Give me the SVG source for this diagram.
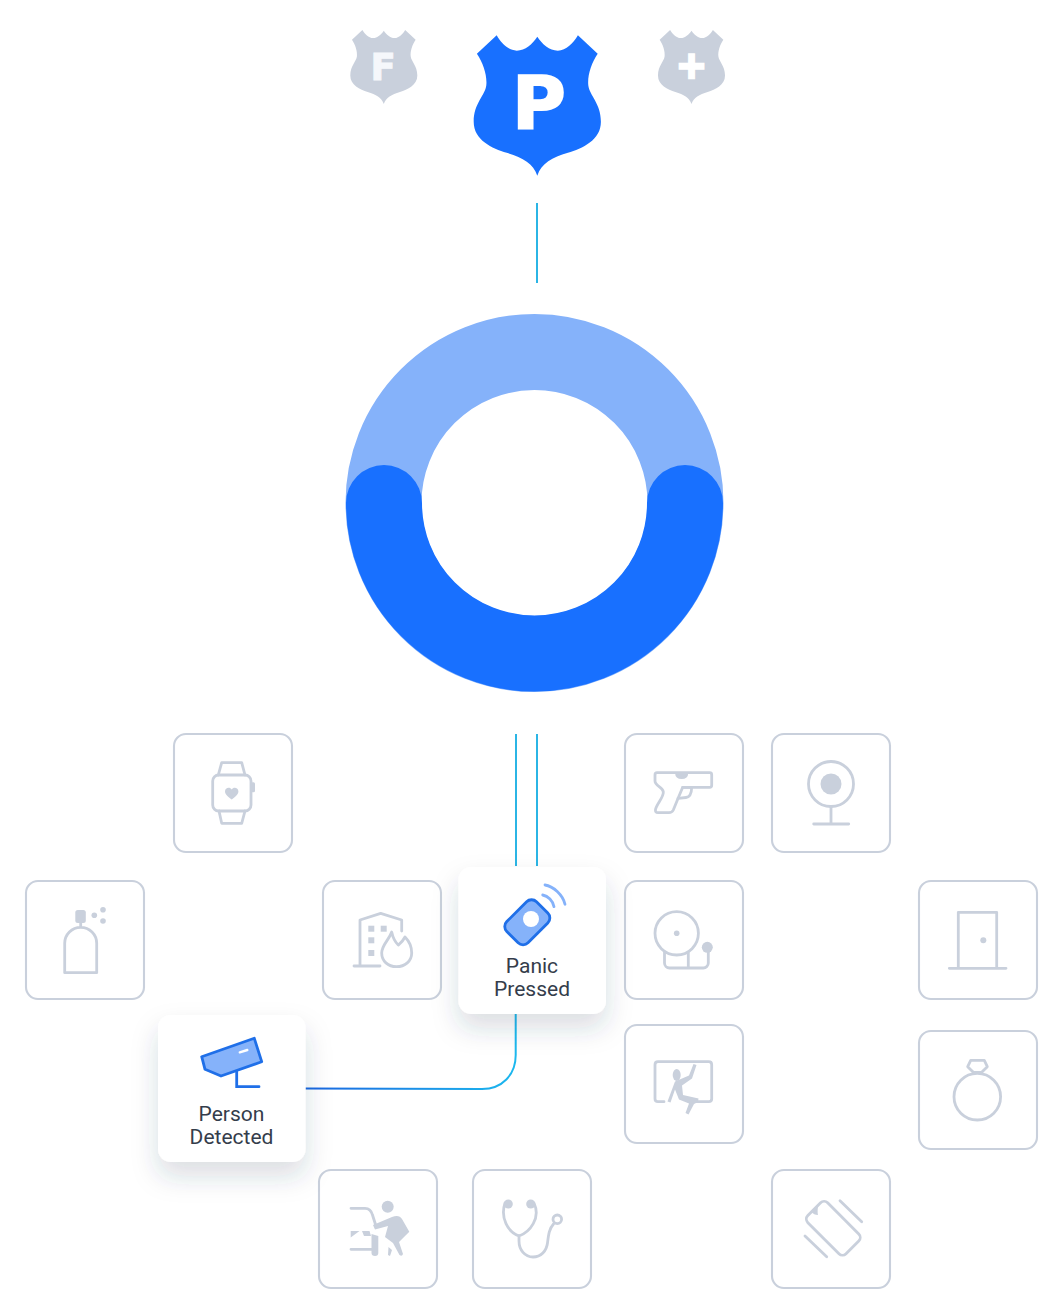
<svg xmlns="http://www.w3.org/2000/svg" width="1063" height="1313" viewBox="0 0 1063 1313">
<style>
.box{fill:#fff;stroke:#c9d0dc;stroke-width:2.100}
.i{fill:none;stroke:#c9d0dc;stroke-width:2.800;stroke-linecap:round;stroke-linejoin:round}
.f{fill:#c9d0dc}
.card{fill:#fff;filter:url(#sh)}
.lbl{font-family:Roboto,"Liberation Sans",sans-serif;font-size:21px;fill:#343d4b;text-anchor:middle}
.bl{fill:#85b2fa;stroke:#1f6fe8;stroke-width:2.800;stroke-linejoin:round}
.sl{font-family:"DejaVu Sans","Liberation Sans",sans-serif;font-weight:700}
.wire{fill:none;stroke:#2bb5e5;stroke-width:2}
</style>
<defs>
<filter id="sh" x="-40%" y="-40%" width="180%" height="190%"><feDropShadow dx="0" dy="14" stdDeviation="13" flood-color="#2a3a5a" flood-opacity=".17"/></filter>
<linearGradient id="wg" gradientUnits="userSpaceOnUse" x1="305" y1="0" x2="516" y2="0"><stop offset="0" stop-color="#1a66e0"/><stop offset="1" stop-color="#1cb8ee"/></linearGradient>
<path id="shield" d="M0 1.400C5 9 12 15 20.500 15.400C29 15 36 8 40.600 0L60.400 18.400C54 28 50 40 51 50C52 60 63.600 68 63.600 86.400C63.600 105 45 113 30.600 117.500C15 122 4 128 0 140.400C-4 128-15 122-30.600 117.500C-45 113-63.600 105-63.600 86.400C-63.600 68-52 60-51 50C-50 40-54 28-60.400 18.400L-40.600 0C-36 8-29 15-20.500 15.400C-12 15-5 9 0 1.400Z"/>
</defs>
<g id="connectors">
<path class="wire" d="M537 203V283"/>
<path class="wire" d="M516 734V866"/>
<path class="wire" d="M537 734V866"/>
<path d="M305.500 1088.500L482 1089C502 1089 515.700 1075 515.700 1055V1014" fill="none" stroke="url(#wg)" stroke-width="2"/>
</g>
<g id="shield-fire"><use href="#shield" transform="translate(383.800 30) scale(.527)" fill="#c9d0dc"/><text class="sl" x="370.500" y="79.500" font-size="37" fill="#f5f7fb" stroke="#f5f7fb" stroke-width="1">F</text></g>
<g id="shield-police"><use href="#shield" transform="translate(537.300 35.300)" fill="#1870ff"/><text class="sl" x="512" y="129.300" font-size="73.500" fill="#fff" stroke="#fff" stroke-width="1.800">P</text></g>
<g id="shield-medical"><use href="#shield" transform="translate(691.500 30) scale(.527)" fill="#c9d0dc"/><text class="sl" x="691.500" y="77.500" font-size="37" fill="#fff" stroke="#fff" stroke-width="2.600" text-anchor="middle">+</text></g>
<g id="ring">
<circle cx="534.500" cy="503" r="151" fill="none" stroke="#85b2fa" stroke-width="76"/>
<path d="M384 503A150.500 150.500 0 0 0 685 503" fill="none" stroke="#1870ff" stroke-width="76" stroke-linecap="round"/>
</g>
<g id="watch"><rect class="box" x="174" y="734" width="118" height="118" rx="12"/>
<rect class="i" x="212.700" y="775" width="38.300" height="36" rx="6"/><path class="i" d="M218.300 775L221.700 762.700H241.700L245 775M219 811L221.700 823.300H241.700L245 811"/><rect class="f" x="251" y="782.300" width="4" height="10" rx="1.500"/><path class="f" d="M231.700 799.500C228 796.500 225 794.500 225 791.500C225 787.500 230 786.700 231.700 789.500C233.400 786.700 238.400 787.500 238.400 791.500C238.400 794.500 235.400 796.500 231.700 799.500Z"/></g>
<g id="gun"><rect class="box" x="625" y="734" width="118" height="118" rx="12"/>
<path class="i" d="M657 772.700H709.700Q711.700 772.700 711.700 774.700V785.300Q711.700 787.300 709.700 787.300H682.700L678 798.500L673.300 810Q672 812.700 669 812.700H658Q655 812.700 655.500 809.500C656.500 804 664 797 663.300 791.700C662.500 787 655 786 655 781V775Q655 772.700 657 772.700Z"/><path class="i" d="M682.700 787.300H691.700Q691.500 797 686 797.500L678 798.300"/><path class="f" d="M675 772.700H688.300Q688 779 681.700 779Q675.300 779 675 772.700Z"/></g>
<g id="webcam"><rect class="box" x="772" y="734" width="118" height="118" rx="12"/>
<circle class="i" cx="831" cy="784" r="22.500"/><circle class="f" cx="831" cy="784" r="10.500"/><path class="i" d="M831 806.700V824M813.700 824H848.700"/></g>
<g id="spray"><rect class="box" x="26" y="881" width="118" height="118" rx="12"/>
<path class="i" d="M64.700 972.700V943.300A16 16 0 0 1 96.700 943.300V972.700ZM80.700 922V927"/><rect class="f" x="75.300" y="910" width="10.500" height="13" rx="2.500"/><circle class="f" cx="94.300" cy="915.300" r="2.800"/><circle class="f" cx="103" cy="909.700" r="2.800"/><circle class="f" cx="103" cy="921" r="2.800"/></g>
<g id="building"><rect class="box" x="323" y="881" width="118" height="118" rx="12"/>
<path class="i" d="M354 966H380M360 966V920L380.700 913.300L401.700 920V931"/><rect class="f" x="368.300" y="925.700" width="6" height="6"/><rect class="f" x="380.700" y="925.700" width="6" height="6"/><rect class="f" x="368.300" y="937.300" width="6" height="6"/><rect class="f" x="368.300" y="950" width="6" height="6"/><path class="i" d="M391.700 932C393 938 395 942 398.300 945C401 943 403 941 405 937C409 941 411.700 947 411.700 953C411.700 961 405 966.700 396.500 966.700C388 966.700 381.700 961 381.700 953C381.700 945 389 940 391.700 932Z"/></g>
<g id="bell"><rect class="box" x="625" y="881" width="118" height="118" rx="12"/>
<circle class="i" cx="676.700" cy="933.300" r="21.700"/><circle class="f" cx="676.700" cy="933.300" r="2.800"/><path class="i" d="M664.500 952V963A5 5 0 0 0 669.500 968H703.300A5 5 0 0 0 708.300 963V951M688.300 953V968"/><circle class="f" cx="707.300" cy="947.300" r="5.500"/></g>
<g id="door"><rect class="box" x="919" y="881" width="118" height="118" rx="12"/>
<path class="i" d="M958.300 968.300V912.300H996.700V968.300M949.300 968.300H1006"/><circle class="f" cx="983.300" cy="940.300" r="3"/></g>
<g id="climb"><rect class="box" x="625" y="1025" width="118" height="118" rx="12"/>
<path class="i" d="M664 1101.700H658Q655 1101.700 655 1098.700V1064.700Q655 1061.700 658 1061.700H708.700Q711.700 1061.700 711.700 1064.700V1098.700Q711.700 1101.700 708.700 1101.700H695"/><ellipse class="f" cx="676.700" cy="1075" rx="4" ry="6"/><path class="f" d="M675 1081.500L689 1075.500L693.500 1064L696.500 1065L692 1078.500L682 1085.500L683 1095L698.500 1098.500L698 1102L694 1104L688.500 1114.500L685.500 1113L689 1103.500L679 1099.500L675 1089.500L670.500 1102.500L667.500 1101.500Z"/></g>
<g id="gem-ring"><rect class="box" x="919" y="1031" width="118" height="118" rx="12"/>
<circle class="i" cx="977.300" cy="1096.700" r="23.300"/><path class="i" d="M967.700 1066.700L970.700 1060.300H984.300L987.300 1066.700L981.700 1072.300H973.300Z"/></g>
<g id="thief"><rect class="box" x="319" y="1170" width="118" height="118" rx="12"/>
<path class="i" d="M351 1208.300H365C369 1208.300 371.500 1211 372.500 1215L376 1226M351 1249.300H372"/><path class="f" d="M371.500 1234L378.300 1236V1253Q378.300 1256 375 1256Q371.500 1256 371.500 1253Z"/><circle class="f" cx="387.700" cy="1206.700" r="6"/><path class="f" d="M373 1225L392 1217Q399 1214 402 1219L409.300 1231.700L399 1242L403 1254Q402 1257 399.500 1255L393 1243L385 1237L388 1226L375 1229.500ZM388.500 1247L392 1250L390 1256L388 1255Z"/><path class="f" d="M350.700 1231H359.500L350.700 1237.500ZM362 1231H369.500L371 1236H364Z"/></g>
<g id="stethoscope"><rect class="box" x="473" y="1170" width="118" height="118" rx="12"/>
<path class="i" d="M505 1203C500 1218 508 1232 519 1236C530 1232 541 1218 534 1203M519 1236V1241C519 1250 525 1257 533 1257C541 1257 546.500 1251 547.500 1243C548.500 1235 549 1229 553.500 1224"/><circle class="f" cx="508.300" cy="1204" r="4.500"/><circle class="f" cx="530.700" cy="1204" r="4.500"/><circle class="i" cx="557.300" cy="1219.300" r="4.300"/></g>
<g id="phone"><rect class="box" x="772" y="1170" width="118" height="118" rx="12"/>
<rect class="i" x="806.300" y="1214.300" width="54" height="28" rx="5" transform="rotate(45 833.300 1228.300)"/><path class="f" d="M811 1211.500L818.500 1204.500Q817 1211 818 1215Q814 1215 811 1211.500Z"/><path class="i" d="M840 1200.700L861.700 1221.700M805 1236L826.700 1256.700"/></g>
<g id="person-detected"><rect class="card" x="158" y="1015" width="147.500" height="147" rx="13"/>
<path class="bl" d="M201.700 1056.700L254.300 1038.300L261.700 1061.700L221 1076L205 1069.300Z"/><path d="M239.800 1052.300L247.300 1050" stroke="#fff" stroke-width="2.400" stroke-linecap="round"/><path d="M236.700 1072V1086.700H259" fill="none" stroke="#1f6fe8" stroke-width="2.800" stroke-linecap="round"/>
<text class="lbl" x="231.500" y="1121">Person</text><text class="lbl" x="231.500" y="1144">Detected</text></g>
<g id="panic-pressed"><rect class="card" x="458.500" y="867" width="147.500" height="147" rx="13"/>
<rect class="bl" x="506.300" y="907.300" width="42" height="30" rx="7" transform="rotate(-45 527.300 922.300)"/><circle cx="531" cy="919" r="8" fill="#fff"/><path d="M545 885C553 886 563 895 565 904.300M542.700 895C548 896 553 901 554 906.700" fill="none" stroke="#85b2fa" stroke-width="2.800" stroke-linecap="round"/>
<text class="lbl" x="532" y="973">Panic</text><text class="lbl" x="532" y="996">Pressed</text></g>
</svg>
